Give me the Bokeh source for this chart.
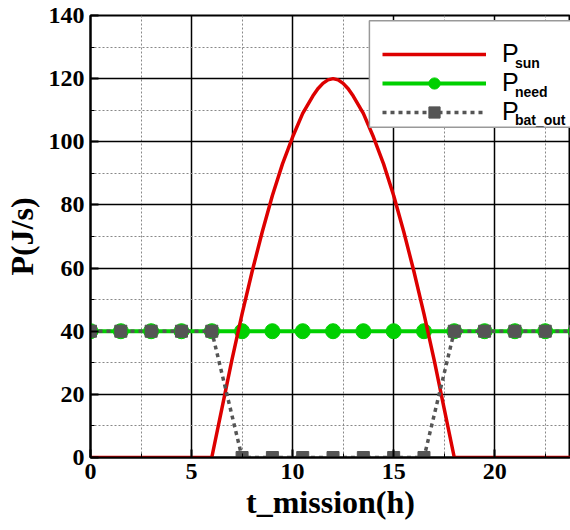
from bokeh.plotting import figure
from bokeh.models import (Range1d, FixedTicker, Legend, LegendItem, Label, BoxAnnotation)
from bokeh.embed import file_html
from bokeh.resources import INLINE

# ---- data ----
sun_t = [0, 6, 6.5, 7, 7.5, 8, 8.5, 9, 9.5, 10, 10.5, 11, 11.25, 11.5, 11.75, 12,
         12.25, 12.5, 12.75, 13, 13.5, 14, 14.5, 15, 15.5, 16, 16.5, 17, 17.5, 18, 24]
sun_p = [0, 0, 15.5, 31, 45.5, 59, 71.5, 83, 93, 101.5, 109, 114.5, 116.8, 118.5, 119.6, 120,
         119.6, 118.5, 116.8, 114.5, 109, 101.5, 93, 83, 71.5, 59, 45.5, 31, 15.5, 0, 0]

step_t = [0, 1.5, 3, 4.5, 6, 7.5, 9, 10.5, 12, 13.5, 15, 16.5, 18, 19.5, 21, 22.5, 24]
need_p = [40, 40, 40, 40, 40, 40, 40, 40, 40, 40, 40, 40, 40, 40, 40, 40, 40]
bat_p = [40, 40, 40, 40, 40, 0, 0, 0, 0, 0, 0, 0, 40, 40, 40, 40, 40]

x_major = [0, 5, 10, 15, 20]
x_minor = [2.5, 7.5, 12.5, 17.5, 22.5]
y_major = [0, 20, 40, 60, 80, 100, 120, 140]
y_minor = [10, 30, 50, 70, 90, 110, 130]

legend_main = ["P", "P", "P"]
legend_sub = ["sun", "need", "bat_out"]

RED = "#dd0000"
GREEN = "#00d000"
GRAY = "#555555"
SERIF = "Liberation Serif"
SANS = "Liberation Sans"

p = figure(width=570, height=530, output_backend="svg", toolbar_location=None,
           x_range=Range1d(0, 23.75), y_range=Range1d(0, 140),
           min_border_left=87, min_border_right=0, min_border_top=15,
           min_border_bottom=73)

p.background_fill_color = "white"
p.border_fill_color = "white"
p.outline_line_color = "black"
p.outline_line_width = 2

p.xaxis.ticker = FixedTicker(ticks=x_major, minor_ticks=x_minor)
p.yaxis.ticker = FixedTicker(ticks=y_major, minor_ticks=y_minor)

for g in (p.xgrid[0], p.ygrid[0]):
    g.grid_line_color = "black"
    g.grid_line_width = 1.5
    g.grid_line_alpha = 1
    g.minor_grid_line_color = "#888888"
    g.minor_grid_line_dash = "2 2"
    g.minor_grid_line_width = 1

for ax in (p.xaxis[0], p.yaxis[0]):
    ax.axis_line_color = "black"
    ax.axis_line_width = 2
    ax.major_tick_in = 8
    ax.major_tick_out = 0
    ax.minor_tick_in = 4
    ax.minor_tick_out = 0
    ax.major_tick_line_width = 2
    ax.minor_tick_line_width = 1
    ax.major_label_text_font = SERIF
    ax.major_label_text_font_style = "bold"
    ax.major_label_text_font_size = "24px"
    ax.major_label_text_color = "black"
    ax.axis_label_text_font = SERIF
    ax.axis_label_text_font_style = "bold"
    ax.axis_label_text_font_size = "32px"
    ax.axis_label_text_color = "black"

p.xaxis.axis_label = "t_mission(h)"
p.yaxis.axis_label = "P(J/s)"
p.xaxis.major_label_standoff = 6
p.yaxis.major_label_standoff = 6
p.xaxis.axis_label_standoff = 2
p.yaxis.axis_label_standoff = 6

# ---- series ----
r_need_l = p.line(step_t, need_p, line_color=GREEN, line_width=4)
r_need_m = p.scatter(step_t, need_p, marker="circle", size=15,
                     fill_color=GREEN, line_color=GREEN)
r_sun = p.line(sun_t, sun_p, line_color=RED, line_width=3.5)
r_bat_l = p.line(step_t, bat_p, line_color=GRAY, line_width=3.5, line_dash="4 4")
r_bat_m = p.scatter(step_t, bat_p, marker="square", size=12,
                    fill_color=GRAY, line_color=GRAY)

# legend background box (white, grey border)
p.add_layout(BoxAnnotation(left=13.8, right=24.5, top=138.3, bottom=104.6,
                           fill_color="white", fill_alpha=1.0,
                           line_color="#999999", line_width=1.5,
                           line_alpha=1.0))

legend = Legend(items=[
    LegendItem(label=m, renderers=r) for m, r in zip(
        legend_main, [[r_sun], [r_need_l, r_need_m], [r_bat_l, r_bat_m]])
], location=(280, 319), glyph_width=104, glyph_height=28, label_height=28,
    label_width=110, label_standoff=16, spacing=0, padding=12,
    border_line_alpha=0, background_fill_alpha=0.0,
    label_text_font=SANS, label_text_font_size="25px", label_text_color="black")
p.add_layout(legend, "center")

# subscripts of the legend labels
rows_y = [124.8, 115.9, 107.0]
for sub, yy in zip(legend_sub, rows_y):
    p.add_layout(Label(x=21.0, y=yy, text=sub, text_font=SANS,
                       text_font_size="14px", text_font_style="bold",
                       text_color="black", text_baseline="alphabetic"))

open("out.html", "w").write(file_html(p, INLINE))
